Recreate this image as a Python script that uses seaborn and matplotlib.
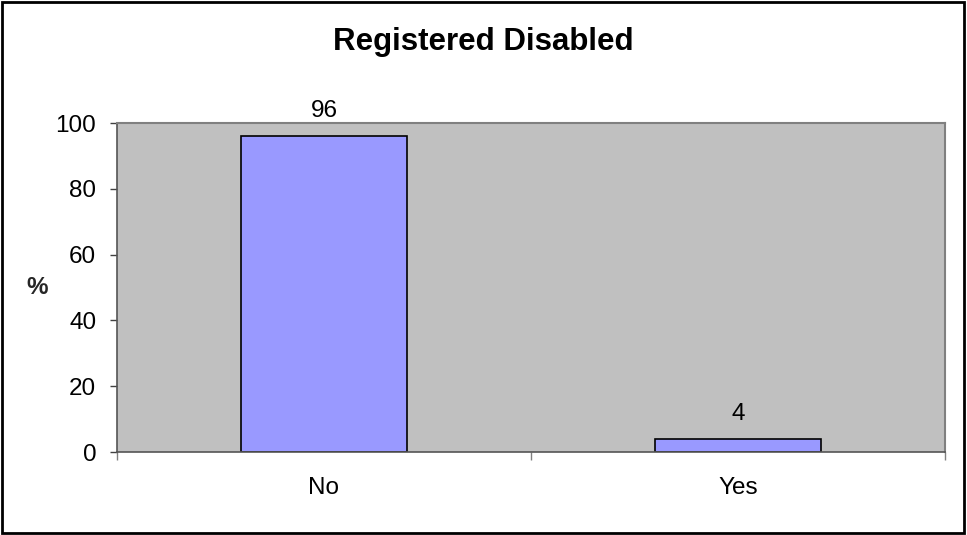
import pandas as pd
import matplotlib.pyplot as plt
import seaborn as sns
from matplotlib.patches import Rectangle

# Chart data
categories = ['No', 'Yes']
percent = [96, 4]

df = pd.DataFrame({'answer': categories, 'percent': percent})

sns.set_style('white')
plt.rcParams['font.family'] = ['Liberation Sans', 'DejaVu Sans']
plt.rcParams['text.color'] = 'black'
plt.rcParams['xtick.color'] = 'black'
plt.rcParams['ytick.color'] = 'black'

fig = plt.figure(figsize=(9.67, 5.35), dpi=100)
ax = fig.add_axes([0.121, 0.155, 0.856, 0.615])
ax.set_facecolor('#C0C0C0')

sns.barplot(data=df, x='answer', y='percent', color='#9999FF', saturation=1,
            width=0.4, edgecolor='black', linewidth=1.2, ax=ax)

# value labels above bars
for i, v in enumerate(percent):
    ax.annotate(str(v), (i, v), xytext=(0, 10), textcoords='offset points',
                ha='center', va='bottom', fontsize=17.5)

ax.set_xlim(-0.5, 1.5)
ax.set_ylim(0, 100)
ax.set_yticks(range(0, 101, 20))
ax.tick_params(axis='y', labelsize=17.5, length=5, width=1, color='#404040',
               labelcolor='black', direction='out', pad=10, left=True)
ax.tick_params(axis='x', which='major', length=0, labelsize=17.5, labelcolor='black', pad=18)
ax.set_xticks([-0.5, 0.5, 1.5], minor=True)
ax.tick_params(axis='x', which='minor', length=6, width=1, color='#808080', direction='out', bottom=True)

for side in ['top', 'right']:
    ax.spines[side].set_color('#808080')
    ax.spines[side].set_linewidth(1.5)
for side in ['left', 'bottom']:
    ax.spines[side].set_color('#555555')
    ax.spines[side].set_linewidth(1.2)

ax.set_xlabel('')
ax.set_ylabel('%', rotation=0, fontsize=17.5, fontweight='bold', va='center', ha='center')
ax.yaxis.set_label_coords(-0.096, 0.5)

fig.text(0.5, 0.922, 'Registered Disabled', ha='center', va='center',
         fontsize=22.5, fontweight='bold')

# outer chart border
fig.patches.append(Rectangle((0.002, 0.003), 0.995, 0.994, transform=fig.transFigure,
                             fill=False, edgecolor='black', linewidth=2))

plt.savefig('out.png', dpi=100)
